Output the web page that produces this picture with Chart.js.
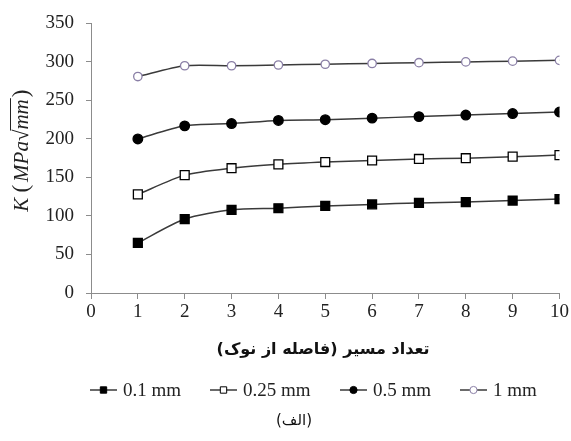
<!DOCTYPE html>
<html lang="fa">
<head>
<meta charset="UTF-8">
<title>K - تعداد مسیر</title>
<script src="https://cdn.jsdelivr.net/npm/chart.js@4"></script>
<style>
  html, body { margin: 0; padding: 0; background: #fff; }
</style>
</head>
<body>
<canvas id="chart" width="571" height="441"></canvas>
<script>
// داده‌ها
const steps = [1, 2, 3, 4, 5, 6, 7, 8, 9, 10];
const k01  = [65, 96, 108, 110, 113, 115, 117, 118, 120, 122];
const k025 = [128, 153, 162, 167, 170, 172, 174, 175, 177, 179];
const k05  = [200, 217, 220, 224, 225, 227, 229, 231, 233, 235];
const k1   = [281, 295, 295, 296, 297, 298, 299, 300, 301, 302];
const seriesLabels = ['0.1 mm', '0.25 mm', '0.5 mm', '1 mm'];
const xTickValues = [0, 1, 2, 3, 4, 5, 6, 7, 8, 9, 10];
const yTickValues = [0, 50, 100, 150, 200, 250, 300, 350];
const xTitle = 'تعداد مسیر (فاصله از نوک)';
const caption = '(الف)';

const serif = '"Liberation Serif", "Times New Roman", serif';
const lineColor = '#3a3a3a';
const axisColor = '#8c8c8c';

function series(label, values, style, radius, fill, stroke) {
    return {
        label: label,
        data: steps.map((s, i) => ({ x: s, y: values[i] })),
        borderColor: lineColor,
        borderWidth: 1.5,
        tension: 0.25,
        pointStyle: style,
        pointRadius: radius,
        pointHoverRadius: radius,
        pointBackgroundColor: fill,
        pointBorderColor: stroke,
        pointBorderWidth: 1.3
    };
}

const datasets = [
    series(seriesLabels[0], k01, 'rect', 6.3, '#000', '#000'),
    series(seriesLabels[1], k025, 'rect', 6.3, '#fff', '#000'),
    series(seriesLabels[2], k05, 'circle', 4.8, '#000', '#000'),
    series(seriesLabels[3], k1, 'circle', 4.2, '#fff', '#8a7fa6')
];

// legend positions (x of line start) and texts drawn by hand
const legendX = [90, 210, 340, 460];

const extras = {
    id: 'extras',
    afterDraw(chart) {
        const ctx = chart.ctx;
        const area = chart.chartArea;

        // y axis title: K (MPa√mm)
        ctx.save();
        ctx.translate(21, (area.top + area.bottom) / 2 - 8);
        ctx.rotate(-Math.PI / 2);
        ctx.fillStyle = '#222';
        ctx.textBaseline = 'alphabetic';
        ctx.textAlign = 'left';
        ctx.font = 'italic 21px ' + serif;
        const partA = 'K ';
        ctx.font = '23px ' + serif;
        const parOpen = '(';
        ctx.font = 'italic 21px ' + serif;
        const partB = 'MPa';
        const partC = 'mm';
        ctx.font = '21px ' + serif;
        const rad = '√';
        const wA = (ctx.font = 'italic 21px ' + serif, ctx.measureText(partA).width);
        const wB = ctx.measureText(partB).width;
        const wC = ctx.measureText(partC).width;
        ctx.font = '23px ' + serif;
        const wP = ctx.measureText(parOpen).width + 3;
        ctx.font = '21px ' + serif;
        const wR = ctx.measureText(rad).width;
        const total = wA + wP + wB + wR + wC + wP;
        let x = -total / 2;
        ctx.font = 'italic 21px ' + serif;
        ctx.fillText(partA, x, 7); x += wA;
        ctx.font = '23px ' + serif;
        ctx.fillText(parOpen, x, 7); x += wP;
        ctx.font = 'italic 21px ' + serif;
        ctx.fillText(partB, x, 7); x += wB;
        ctx.font = '21px ' + serif;
        ctx.fillText(rad, x, 7); x += wR;
        ctx.font = 'italic 21px ' + serif;
        ctx.fillText(partC, x, 7);
        ctx.strokeStyle = '#222';
        ctx.lineWidth = 1;
        ctx.beginPath();
        ctx.moveTo(x - 1, -10.5);
        ctx.lineTo(x + wC + 1, -10.5);
        ctx.stroke();
        x += wC + 2;
        ctx.font = '23px ' + serif;
        ctx.fillText(')', x, 7);
        ctx.restore();

        // x axis title (Persian, rtl)
        ctx.save();
        ctx.direction = 'rtl';
        ctx.textAlign = 'center';
        ctx.textBaseline = 'middle';
        ctx.fillStyle = '#111';
        ctx.font = 'bold 16px "DejaVu Sans", sans-serif';
        ctx.fillText(xTitle, 323, 350);
        ctx.restore();

        // legend
        ctx.save();
        const ly = 390;
        chart.data.datasets.forEach((ds, i) => {
            const x0 = legendX[i];
            ctx.strokeStyle = ds.borderColor;
            ctx.lineWidth = 1.5;
            ctx.beginPath();
            ctx.moveTo(x0, ly);
            ctx.lineTo(x0 + 27, ly);
            ctx.stroke();
            ctx.fillStyle = ds.pointBackgroundColor;
            ctx.strokeStyle = ds.pointBorderColor;
            ctx.lineWidth = 1;
            Chart.helpers.drawPoint(ctx, {
                pointStyle: ds.pointStyle,
                radius: ds.pointStyle === 'rect' ? 4.5 : 3.6,
                borderWidth: 1,
                rotation: 0
            }, x0 + 13.5, ly);
            ctx.fillStyle = '#222';
            ctx.font = '19px ' + serif;
            ctx.textAlign = 'left';
            ctx.textBaseline = 'middle';
            ctx.fillText(ds.label, x0 + 33, ly + 1);
        });
        ctx.restore();

        // caption
        ctx.save();
        ctx.direction = 'rtl';
        ctx.textAlign = 'center';
        ctx.textBaseline = 'middle';
        ctx.fillStyle = '#111';
        ctx.font = '15px "DejaVu Sans", sans-serif';
        ctx.fillText(caption, 294, 421);
        ctx.restore();
    }
};

new Chart(document.getElementById('chart').getContext('2d'), {
    type: 'line',
    data: { datasets: datasets },
    plugins: [extras],
    options: {
        responsive: false,
        animation: false,
        layout: { padding: { left: 0, right: 10, top: 19, bottom: 118 } },
        plugins: {
            legend: { display: false },
            tooltip: { enabled: false }
        },
        scales: {
            x: {
                type: 'linear',
                min: 0,
                max: 10,
                afterBuildTicks: s => { s.ticks = xTickValues.map(v => ({ value: v })); },
                afterFit: s => { s.height = 30; },
                grid: { drawOnChartArea: false, drawTicks: true, tickLength: 6, color: axisColor },
                border: { color: axisColor, width: 1 },
                ticks: { color: '#222', padding: 2, font: { family: serif, size: 19 } }
            },
            y: {
                min: 0,
                max: 350,
                afterBuildTicks: s => { s.ticks = yTickValues.map(v => ({ value: v })); },
                afterFit: s => { s.width = 91; },
                grid: { drawOnChartArea: false, drawTicks: true, tickLength: 5, color: axisColor },
                border: { color: axisColor, width: 1 },
                ticks: { color: '#222', padding: 12, font: { family: serif, size: 19 } }
            }
        }
    }
});
</script>
</body>
</html>
